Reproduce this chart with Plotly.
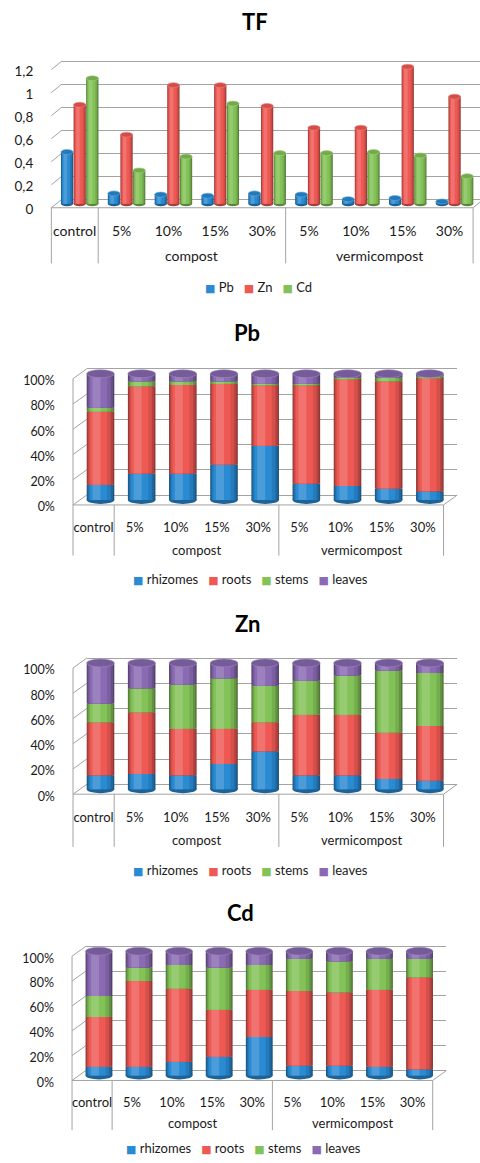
import plotly.graph_objects as go

W, H = 480, 1163

# ---- data -------------------------------------------------------------
categories = ["control", "5%", "10%", "15%", "30%", "5%", "10%", "15%", "30%"]
category_groups = ["", "compost", "compost", "compost", "compost",
                   "vermicompost", "vermicompost", "vermicompost", "vermicompost"]

tf_series = ["Pb", "Zn", "Cd"]
tf_pb = [0.45, 0.09, 0.08, 0.07, 0.09, 0.08, 0.04, 0.05, 0.02]
tf_zn = [0.86, 0.60, 1.03, 1.03, 0.85, 0.66, 0.66, 1.19, 0.93]
tf_cd = [1.09, 0.29, 0.41, 0.87, 0.44, 0.44, 0.45, 0.42, 0.24]
tf_ticks = [0, 0.2, 0.4, 0.6, 0.8, 1.0, 1.2]
tf_tick_labels = ["0", "0,2", "0,4", "0,6", "0,8", "1", "1,2"]

organs = ["rhizomes", "roots", "stems", "leaves"]
pb_rhizomes = [12, 21, 21, 28, 43, 13, 11, 9, 7]
pb_roots = [58, 69, 70, 64, 48, 78, 85, 85, 90]
pb_stems = [3, 4, 3, 2, 1, 1, 1, 3, 1]
pb_leaves = [27, 6, 6, 6, 8, 8, 3, 3, 2]

zn_rhizomes = [11, 12, 11, 20, 30, 11, 11, 8, 7]
zn_roots = [42, 49, 37, 28, 23, 48, 48, 37, 43]
zn_stems = [15, 19, 35, 40, 29, 27, 31, 49, 42]
zn_leaves = [32, 20, 17, 12, 18, 14, 10, 6, 8]

cd_rhizomes = [7, 7, 11, 15, 31, 8, 8, 7, 5]
cd_roots = [40, 69, 59, 38, 38, 60, 59, 62, 74]
cd_stems = [17, 11, 19, 34, 20, 26, 25, 25, 15]
cd_leaves = [36, 13, 11, 13, 11, 6, 8, 6, 6]

pct_ticks = [0, 20, 40, 60, 80, 100]
pct_tick_labels = ["0%", "20%", "40%", "60%", "80%", "100%"]

BLUE, RED, GREEN, PURPLE = "#2A8AD2", "#EE5954", "#83C257", "#8A6AB3"
tf_colors = [BLUE, RED, GREEN]
organ_colors = [BLUE, RED, GREEN, PURPLE]

FONT = "Lato, 'Open Sans', sans-serif"
TEXT = "#1a1a1a"
LINE = "#A3A3A3"


# ---- colour helpers ---------------------------------------------------
def _rgb(h):
    h = h.lstrip("#")
    return [int(h[i:i + 2], 16) for i in (0, 2, 4)]


def shade(h, f):
    return "#%02x%02x%02x" % tuple(max(0, min(255, int(c * f))) for c in _rgb(h))


def tint(h, f):
    return "#%02x%02x%02x" % tuple(int(c + (255 - c) * f) for c in _rgb(h))


def cylinder_layers(c):
    # nested strips across the bar width, giving a rounded, lit-from-left look
    return [(0.00, 1.00, shade(c, 0.62)),
            (0.03, 0.95, shade(c, 0.76)),
            (0.07, 0.87, shade(c, 0.90)),
            (0.12, 0.74, c),
            (0.21, 0.50, tint(c, 0.16))]


# ---- panel geometry (pixels) -------------------------------------------
panels = [
    dict(title="TF", x0=45, x1=473, yz=209, yt=70, top=1.2, dx=10, dy=8,
         grp_y=257, div_y=265, leg_y=289, title_x=252, title_y=22,
         leg_x=255, tick_fs=13.5, cat_fs=14, side=False, cap=2.5,
         y_standoff=22, x_standoff=9),
    dict(title="Pb", x0=67, x1=443, yz=508, yt=381, top=100, dx=14, dy=10,
         grp_y=553, div_y=559, leg_y=583, title_x=244, title_y=335,
         leg_x=247, tick_fs=12.5, cat_fs=13, side=True, cap=4,
         y_standoff=24, x_standoff=10),
    dict(title="Zn", x0=67, x1=443, yz=799, yt=672, top=100, dx=14, dy=10,
         grp_y=845, div_y=852, leg_y=875, title_x=244, title_y=627,
         leg_x=247, tick_fs=12.5, cat_fs=13, side=True, cap=4,
         y_standoff=24, x_standoff=11),
    dict(title="Cd", x0=66, x1=432, yz=1087, yt=962, top=100, dx=14, dy=10,
         grp_y=1130, div_y=1137, leg_y=1155, title_x=237, title_y=918,
         leg_x=240, tick_fs=12.5, cat_fs=13, side=True, cap=4,
         y_standoff=24, x_standoff=10),
]

panel_data = [
    dict(kind="group", names=tf_series, colors=tf_colors,
         values=[tf_pb, tf_zn, tf_cd], ticks=tf_ticks, labels=tf_tick_labels),
    dict(kind="stack", names=organs, colors=organ_colors,
         values=[pb_rhizomes, pb_roots, pb_stems, pb_leaves],
         ticks=pct_ticks, labels=pct_tick_labels),
    dict(kind="stack", names=organs, colors=organ_colors,
         values=[zn_rhizomes, zn_roots, zn_stems, zn_leaves],
         ticks=pct_ticks, labels=pct_tick_labels),
    dict(kind="stack", names=organs, colors=organ_colors,
         values=[cd_rhizomes, cd_roots, cd_stems, cd_leaves],
         ticks=pct_ticks, labels=pct_tick_labels),
]


def px(x):
    return x / W


def py(y):
    return 1 - y / H


fig = go.Figure()
layout = {}
shapes = []
annotations = []
idx = list(range(len(categories)))
n = len(categories)

for k, (g, d) in enumerate(zip(panels, panel_data)):
    gid = k + 1          # back-wall grid subplot
    bid = k + 5          # bar subplot (drawn above the grid)
    gx = "x" if gid == 1 else f"x{gid}"
    gy = "y" if gid == 1 else f"y{gid}"
    bx, by = f"x{bid}", f"y{bid}"
    gkx = "xaxis" if gid == 1 else f"xaxis{gid}"
    gky = "yaxis" if gid == 1 else f"yaxis{gid}"

    ppu = (g["yz"] - g["yt"]) / g["top"]
    pad = 0.06 * g["top"]
    lo, hi = -pad, g["top"] + pad
    cw = (g["x1"] - g["x0"]) / n

    # bar plane sits half-way into the depth of the floor
    bz = g["yz"] - g["dy"] / 2
    layout[f"xaxis{bid}"] = dict(
        domain=[px(g["x0"] + g["dx"] / 2), px(g["x1"] + g["dx"] / 2)],
        range=[-0.5, n - 0.5], anchor=by, tickvals=idx, ticktext=categories,
        tickangle=0, showgrid=False, zeroline=False, showline=False, ticks="",
        ticklabelshift=int(-g["dx"] / 2), ticklabelstandoff=g["x_standoff"],
        tickfont=dict(family=FONT, size=g["cat_fs"], color=TEXT), fixedrange=True)
    layout[f"yaxis{bid}"] = dict(
        domain=[py(bz - lo * ppu), py(bz - hi * ppu)], range=[lo, hi], anchor=bx,
        tickvals=d["ticks"], ticktext=d["labels"], showgrid=False, zeroline=False,
        showline=False, ticks="", ticklabelshift=int(g["dy"] / 2) + 2,
        ticklabelstandoff=g["y_standoff"],
        tickfont=dict(family=FONT, size=g["tick_fs"], color=TEXT), fixedrange=True)

    # back wall with horizontal gridlines
    gz = g["yz"] - g["dy"]
    layout[gkx] = dict(domain=[px(g["x0"] + g["dx"]), min(1.0, px(g["x1"] + g["dx"]))],
                       range=[0, 1], anchor=gy, visible=False, fixedrange=True)
    layout[gky] = dict(domain=[py(gz - lo * ppu), py(gz - hi * ppu)], range=[lo, hi],
                       anchor=gx, tickvals=d["ticks"], showticklabels=False,
                       showgrid=True, gridcolor=LINE, gridwidth=1, zeroline=False,
                       showline=False, ticks="", fixedrange=True)
    fig.add_trace(go.Scatter(x=[0.5], y=[0], mode="markers", marker=dict(opacity=0),
                             xaxis=gx, yaxis=gy, hoverinfo="skip", showlegend=False))

    # bars
    if d["kind"] == "group":
        bw = 0.26
        centers = [-0.27, 0.0, 0.27]
        for vals, col, c0 in zip(d["values"], d["colors"], centers):
            for a, b, lc in cylinder_layers(col):
                fig.add_trace(go.Bar(x=idx, y=vals, base=[0] * n, width=bw * (b - a),
                                     offset=c0 - bw / 2 + bw * a,
                                     marker=dict(color=lc, line=dict(width=0)),
                                     xaxis=bx, yaxis=by, hoverinfo="skip", showlegend=False))
            hcap = g["cap"] / ppu
            for i, v in enumerate(vals):
                shapes.append(dict(type="circle", xref=bx, yref=by, layer="between",
                                   x0=i + c0 - bw / 2, x1=i + c0 + bw / 2,
                                   y0=-hcap, y1=hcap, fillcolor=shade(col, 0.7),
                                   line=dict(width=0)))
                shapes.append(dict(type="circle", xref=bx, yref=by, layer="above",
                                   x0=i + c0 - bw / 2, x1=i + c0 + bw / 2,
                                   y0=v - hcap, y1=v + hcap, fillcolor=shade(col, 0.88),
                                   line=dict(width=0.6, color=tint(col, 0.25))))
    else:
        bw = 0.67
        bases = [0] * n
        for vals, col in zip(d["values"], d["colors"]):
            for a, b, lc in cylinder_layers(col):
                fig.add_trace(go.Bar(x=idx, y=vals, base=list(bases), width=bw * (b - a),
                                     offset=-bw / 2 + bw * a,
                                     marker=dict(color=lc, line=dict(width=0)),
                                     xaxis=bx, yaxis=by, hoverinfo="skip", showlegend=False))
            bases = [s + v for s, v in zip(bases, vals)]
        hcap = g["cap"] / ppu
        bottom_col, top_col = d["colors"][0], d["colors"][-1]
        for i, tot in enumerate(bases):
            shapes.append(dict(type="circle", xref=bx, yref=by, layer="between",
                               x0=i - bw / 2, x1=i + bw / 2, y0=-hcap, y1=hcap,
                               fillcolor=shade(bottom_col, 0.72), line=dict(width=0)))
            shapes.append(dict(type="circle", xref=bx, yref=by, layer="above",
                               x0=i - bw / 2, x1=i + bw / 2, y0=tot - hcap, y1=tot + hcap,
                               fillcolor=shade(top_col, 0.86),
                               line=dict(width=0.6, color=tint(top_col, 0.2))))

    # frame: floor edge, side-wall diagonals, dividers
    def seg(xa, ya, xb, yb):
        shapes.append(dict(type="line", xref="paper", yref="paper",
                           x0=px(xa), y0=py(ya), x1=px(xb), y1=py(yb),
                           line=dict(color=LINE, width=1), layer="below"))

    seg(g["x0"], g["yz"], g["x1"], g["yz"])
    seg(g["x1"], g["yz"], g["x1"] + g["dx"], g["yz"] - g["dy"])
    for t in d["ticks"]:
        yt = g["yz"] - t * ppu
        seg(g["x0"], yt, g["x0"] + g["dx"], yt - g["dy"])
    if g["side"]:
        seg(g["x0"], g["yz"], g["x0"], g["yt"])
    bounds = [0] + [i for i in range(1, n) if category_groups[i] != category_groups[i - 1]] + [n]
    for b in bounds:
        xb = g["x0"] + b * cw
        seg(xb, g["yz"], xb, g["div_y"])

    # group labels under the category labels
    for name in dict.fromkeys(category_groups):
        if not name:
            continue
        members = [i for i, c in enumerate(category_groups) if c == name]
        annotations.append(dict(text=name, xref=bx, yref="paper",
                                x=sum(members) / len(members), xshift=-g["dx"] / 2,
                                y=py(g["grp_y"]), yanchor="middle", showarrow=False,
                                font=dict(family=FONT, size=g["cat_fs"], color=TEXT)))

    # title
    annotations.append(dict(text=f"<b>{g['title']}</b>", xref="paper", yref="paper",
                            x=px(g["title_x"]), y=py(g["title_y"]), xanchor="center",
                            yanchor="middle", showarrow=False,
                            font=dict(family=FONT, size=22, color="#000000")))

    # legend
    items = [f"<span style='color:{c};font-family:DejaVu Sans;font-size:11px'>\u25A0</span>\u00a0{nm}"
             for nm, c in zip(d["names"], d["colors"])]
    annotations.append(dict(text="\u00a0\u00a0\u00a0".join(items), xref="paper", yref="paper",
                            x=px(g["leg_x"]), y=py(g["leg_y"]), xanchor="center",
                            yanchor="middle", showarrow=False,
                            font=dict(family=FONT, size=13, color=TEXT)))

fig.update_layout(
    width=W, height=H, autosize=False,
    margin=dict(l=0, r=0, t=0, b=0),
    paper_bgcolor="#ffffff", plot_bgcolor="rgba(0,0,0,0)",
    barmode="overlay", showlegend=False,
    shapes=shapes, annotations=annotations,
    **layout,
)

fig.write_html("out.html", config={"displayModeBar": False})
